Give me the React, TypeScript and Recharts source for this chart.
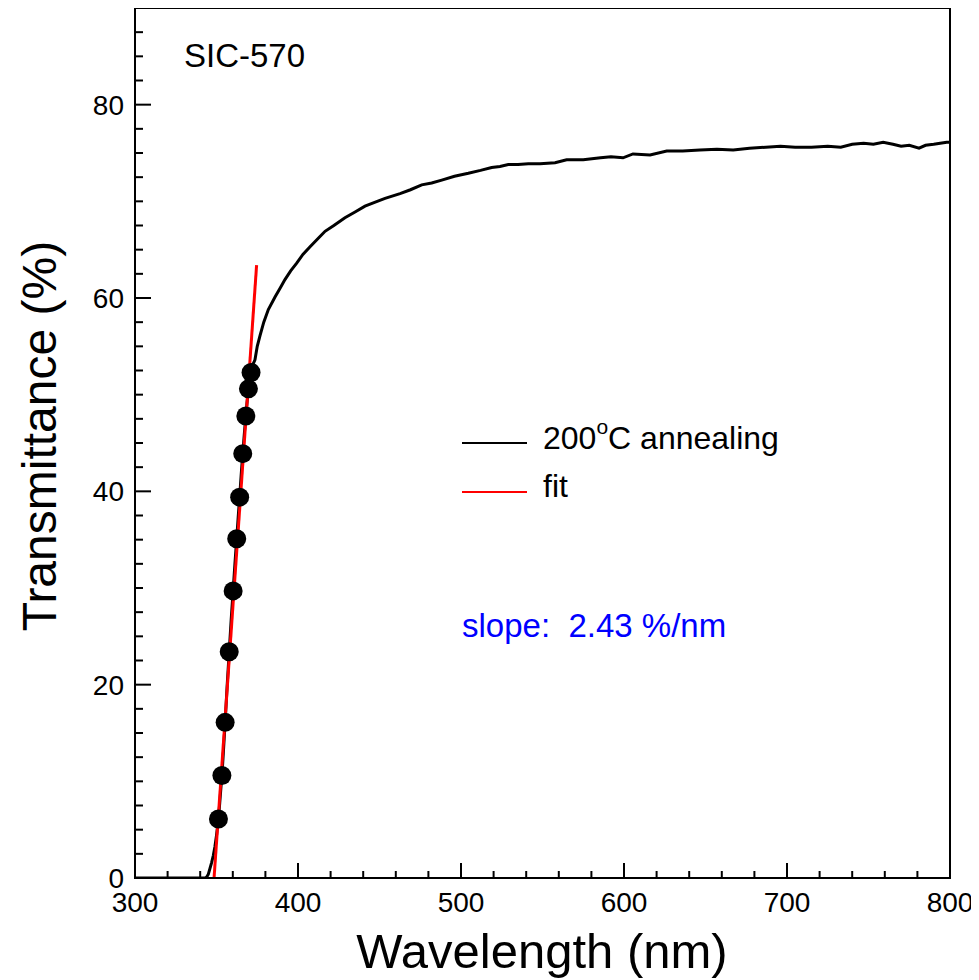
import { ComposedChart, Line, Scatter, XAxis, YAxis, ReferenceArea } from "recharts"

// measured transmittance curve, 200°C annealing
const curveWl = [
  300, 320, 343, 344, 345, 346, 347, 348, 349, 350, 351.2, 352, 353.3, 354, 355.3, 356.5, 357.8, 359, 360.2,
  361.3, 362.4, 363.3, 364.2, 365.1, 366.1, 367, 368, 368.8, 369.6, 370.4, 371.2, 372, 373.6, 375, 376.7,
  379, 381.8, 385.9, 389, 392, 395.5, 399.2, 403, 407.4, 412, 416.6, 422, 428.8, 435, 441.1, 447, 453.4, 462.6, 469,
  475.9, 482, 488.2, 496, 504.5, 512, 518.8, 523.9, 529, 535, 541.3, 548.5, 557.7, 564.8, 575, 585.6, 592, 599.4,
  605.5, 616, 626.2, 636, 646.6, 657, 667, 677, 687, 696, 705, 715, 725, 733, 740, 747, 753, 759, 765, 770, 775,
  781, 785, 790, 794, 798, 800,
]
const curveT = [
  0, 0, 0, 0.1, 0.4, 1.0, 1.6, 2.3, 3.2, 4.4, 6.1, 7.8, 10.6, 12.4, 16.1, 19.8, 23.4, 26.7, 29.7,
  32.5, 35.1, 37.3, 39.4, 41.6, 43.9, 45.8, 47.8, 49.3, 50.6, 51.5, 52.3, 53.0, 53.6, 55.0, 56.1,
  57.5, 58.8, 60.1, 61.0, 61.9, 62.8, 63.6, 64.5, 65.3, 66.1, 66.9, 67.5, 68.3, 68.9, 69.5, 69.9, 70.3, 70.8, 71.2,
  71.7, 71.9, 72.2, 72.6, 72.9, 73.2, 73.5, 73.6, 73.8, 73.8, 73.9, 73.9, 74.0, 74.3, 74.3, 74.5, 74.6, 74.5,
  74.9, 74.8, 75.2, 75.2, 75.3, 75.4, 75.3, 75.5, 75.6, 75.7, 75.6, 75.6, 75.7, 75.6, 75.9, 76.0, 75.9, 76.1, 75.9, 75.7, 75.8,
  75.5, 75.8, 75.9, 76.0, 76.1, 76.1,
]

// points used for the fit
const fitPtWl = [351.2, 353.3, 355.3, 357.8, 360.2, 362.4, 364.2, 366.1, 368.0, 369.6, 371.2]
const fitPtT = [6.1, 10.6, 16.1, 23.4, 29.7, 35.1, 39.4, 43.9, 47.8, 50.6, 52.3]

// linear fit, slope 2.43 %/nm
const fitWl = [348.5, 374.6]
const fitT = [0, 63.4]

const xTicks = [300, 320, 340, 360, 380, 400, 420, 440, 460, 480, 500, 520, 540, 560, 580, 600, 620, 640, 660, 680, 700, 720, 740, 760, 780, 800]
const xLabels = [300, 400, 500, 600, 700, 800]
const yTicks = [
  0, 2.5, 5, 7.5, 10, 12.5, 15, 17.5, 20, 22.5, 25, 27.5, 30, 32.5, 35, 37.5, 40, 42.5, 45, 47.5, 50,
  52.5, 55, 57.5, 60, 62.5, 65, 67.5, 70, 72.5, 75, 77.5, 80, 82.5, 85, 87.5, 90,
]
const yLabels = [0, 20, 40, 60, 80]

const curveData = curveWl.map((x, i) => ({ x, y: curveT[i] }))
const pointData = fitPtWl.map((x, i) => ({ x, y: fitPtT[i] }))
const fitData = fitWl.map((x, i) => ({ x, y: fitT[i] }))

const FONT = "'Liberation Sans', Arial, Helvetica, sans-serif"

// ticks point inwards; y here is the bottom edge of the plot
const XTick = (props: any) => {
  const { x, y, payload } = props
  const major = xLabels.includes(payload.value)
  return (
    <g>
      <line x1={x} x2={x} y1={y} y2={y - (major ? 15 : 7)} stroke="#000" strokeWidth={2} />
      {major && (
        <text x={x} y={y + 34} textAnchor="middle" fontSize={28} fontFamily={FONT} fill="#000">
          {payload.value}
        </text>
      )}
    </g>
  )
}

const YTick = (props: any) => {
  const { x, y, payload } = props
  const major = yLabels.includes(payload.value)
  return (
    <g>
      <line x1={x} x2={x + (major ? 16 : 8)} y1={y} y2={y} stroke="#000" strokeWidth={2} />
      {major && (
        <text x={x - 11} y={y + 10} textAnchor="end" fontSize={28} fontFamily={FONT} fill="#000">
          {payload.value}
        </text>
      )}
    </g>
  )
}

export default function App() {
  return (
    <div style={{ position: "relative", width: 979, height: 980, margin: "-8px 0 0 -8px", background: "#fff" }}>
      <ComposedChart width={979} height={980} margin={{ top: 8, right: 29, bottom: 42, left: 75 }}>
        <XAxis
          type="number"
          dataKey="x"
          domain={[300, 800]}
          ticks={xTicks}
          interval={0}
          allowDataOverflow
          height={60}
          tickSize={0}
          tickMargin={0}
          tick={XTick}
          axisLine={{ stroke: "#000", strokeWidth: 2 }}
          tickLine={false}
        />
        <YAxis
          type="number"
          dataKey="y"
          domain={[0, 90]}
          ticks={yTicks}
          interval={0}
          allowDataOverflow
          width={60}
          tickSize={0}
          tickMargin={0}
          tick={YTick}
          axisLine={{ stroke: "#000", strokeWidth: 2 }}
          tickLine={false}
        />
        <ReferenceArea x1={300} x2={800} y1={0} y2={90} fill="none" stroke="#000" strokeWidth={2} />
        <Line
          data={curveData}
          dataKey="y"
          type="linear"
          stroke="#000"
          strokeWidth={3}
          dot={false}
          isAnimationActive={false}
          name="200°C annealing"
        />
        <Scatter
          data={pointData}
          dataKey="y"
          fill="#000"
          shape={(p: any) => <circle cx={p.cx} cy={p.cy} r={9.5} fill="#000" />}
          isAnimationActive={false}
        />
        <Line
          data={fitData}
          dataKey="y"
          type="linear"
          stroke="#ff0000"
          strokeWidth={3}
          dot={false}
          isAnimationActive={false}
          name="fit"
        />
      </ComposedChart>

      <svg width={979} height={980} style={{ position: "absolute", left: 0, top: 0, pointerEvents: "none" }} fontFamily={FONT}>
        <text x={184} y={67} fontSize={33} fill="#000">SIC-570</text>

        <line x1={462} x2={527} y1={443} y2={443} stroke="#000" strokeWidth={2} />
        <text x={543} y={449} fontSize={32} fill="#000">
          200
          <tspan fontSize={21} dy={-15}>o</tspan>
          <tspan dy={15}>C annealing</tspan>
        </text>
        <line x1={462} x2={527} y1={492} y2={492} stroke="#ff0000" strokeWidth={2} />
        <text x={543} y={497} fontSize={32} fill="#000">fit</text>

        <text x={462} y={637} fontSize={33} fill="#0000ff" style={{ whiteSpace: "pre" }}>slope:  2.43 %/nm</text>

        <text x={542} y={968} fontSize={49} textAnchor="middle" fill="#000">Wavelength (nm)</text>
        <text x={56} y={436} fontSize={48} textAnchor="middle" fill="#000" transform="rotate(-90 56 436)">
          Transmittance (%)
        </text>
      </svg>
    </div>
  )
}
